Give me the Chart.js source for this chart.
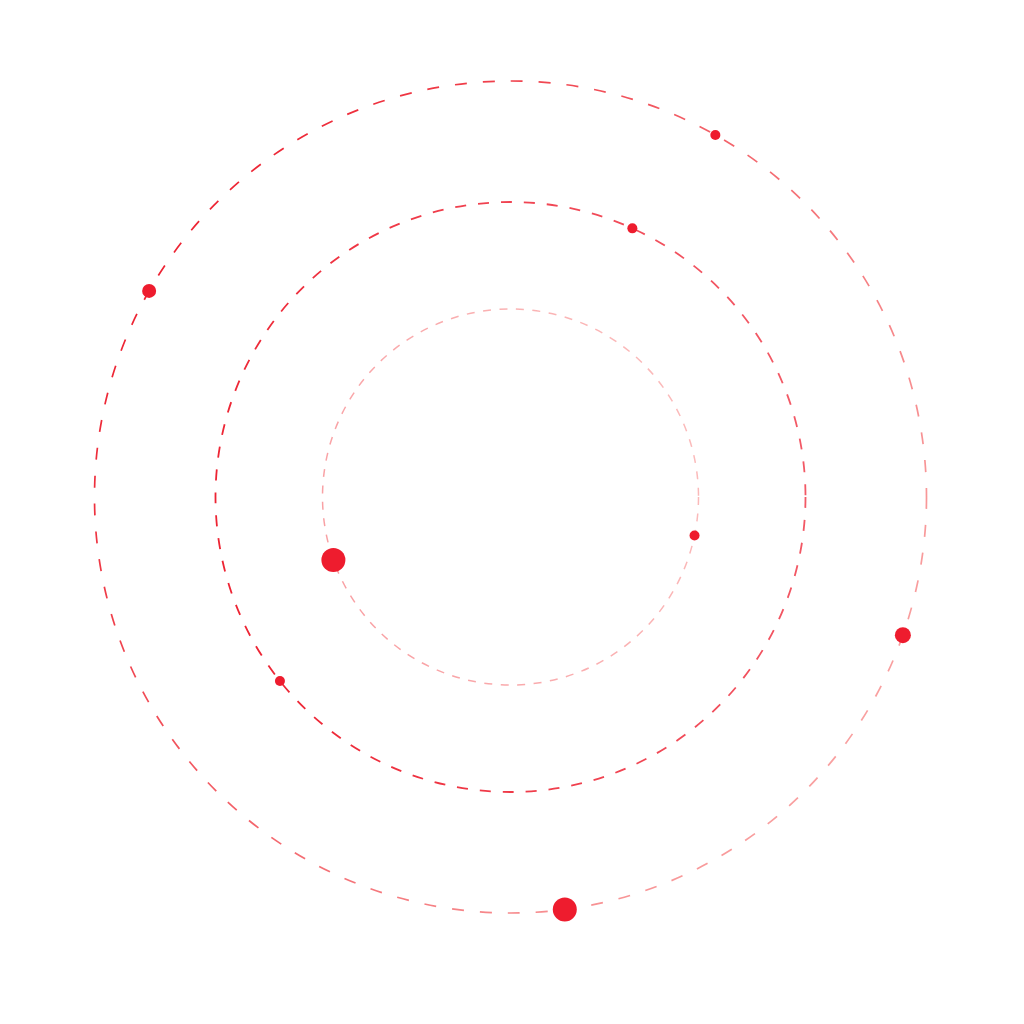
<!DOCTYPE html>
<html>
<head>
<meta charset="utf-8">
<script src="https://cdn.jsdelivr.net/npm/chart.js@4/dist/chart.umd.min.js"></script>
<style>
html,body{margin:0;padding:0;background:#fff;}
#wrap{width:1024px;height:1024px;position:relative;}
</style>
</head>
<body>
<div id="wrap"><canvas id="c"></canvas></div>
<script>
// Orbits (radius in axis units)
const orbitRadii = [188, 295, 416];
const orbitDash = [[8, 8.5], [11, 12], [12, 16]];
const orbitWidth = [1.5, 1.8, 1.7];
// gradient: [angle of strong side (deg), strong colour, weak colour]
const orbitGradAngle = [200, 190, 145];
const orbitStrong = ['rgba(246,120,125,0.7)', 'rgba(236,24,40,0.95)', 'rgba(236,24,40,0.95)'];
const orbitWeak = ['rgba(248,140,140,0.6)', 'rgba(240,60,75,0.85)', 'rgba(246,120,120,0.7)'];

// Planets
const planetOrbit = [2, 2, 2, 2, 1, 1, 0, 0];
const planetAngle = [60.5, 150.3, -19.4, -82.5, 65.6, 218.6, -11.8, 199.6];
const planetSize = [5, 7, 8, 12, 5, 5, 5, 12];
const planetColor = '#ee1c2e';

const points = planetOrbit.map((o, i) => {
  const a = planetAngle[i] * Math.PI / 180;
  return { x: orbitRadii[o] * Math.cos(a), y: orbitRadii[o] * Math.sin(a), r: planetSize[i] };
});

const orbitPlugin = {
  id: 'orbits',
  beforeDatasetsDraw(chart) {
    const { ctx, scales: { x, y } } = chart;
    const cx = x.getPixelForValue(0), cy = y.getPixelForValue(0);
    orbitRadii.forEach((R, i) => {
      const rp = x.getPixelForValue(R) - cx;
      const a = orbitGradAngle[i] * Math.PI / 180;
      const g = ctx.createLinearGradient(cx + rp * Math.cos(a), cy - rp * Math.sin(a),
                                         cx - rp * Math.cos(a), cy + rp * Math.sin(a));
      g.addColorStop(0, orbitStrong[i]);
      g.addColorStop(1, orbitWeak[i]);
      ctx.save();
      ctx.strokeStyle = g;
      ctx.lineWidth = orbitWidth[i];
      ctx.setLineDash(orbitDash[i]);
      ctx.beginPath();
      ctx.arc(cx, cy, rp, 0, Math.PI * 2);
      ctx.stroke();
      ctx.restore();
    });
  }
};

new Chart(document.getElementById('c'), {
  type: 'bubble',
  data: {
    datasets: [{
      data: points,
      backgroundColor: planetColor,
      borderWidth: 0,
      hoverRadius: 0,
      clip: false
    }]
  },
  options: {
    responsive: true,
    maintainAspectRatio: false,
    animation: false,
    layout: { autoPadding: false, padding: { left: 0, right: 3, top: 0, bottom: 30 } },
    plugins: { legend: { display: false }, tooltip: { enabled: false } },
    events: [],
    scales: {
      x: { type: 'linear', min: -510.5, max: 510.5, display: false },
      y: { type: 'linear', min: -497, max: 497, display: false }
    }
  },
  plugins: [orbitPlugin]
});
</script>
</body>
</html>
